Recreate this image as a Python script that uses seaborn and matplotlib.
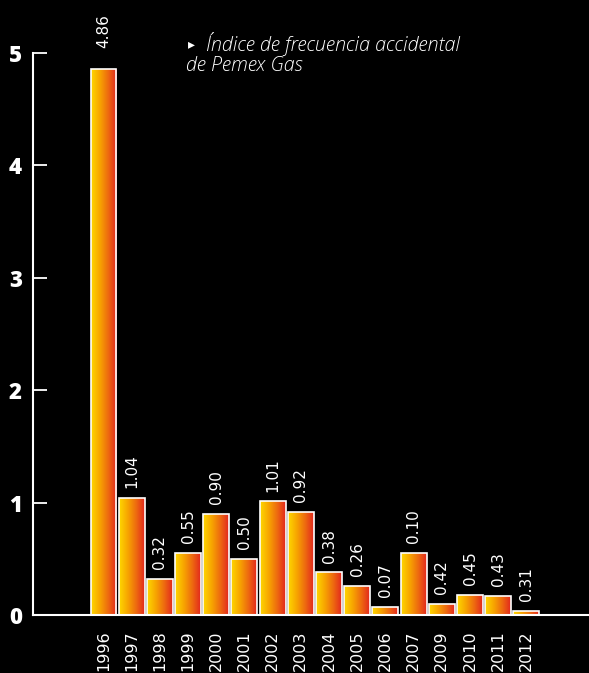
import numpy as np
import seaborn as sns
import matplotlib.pyplot as plt
from matplotlib.colors import LinearSegmentedColormap

# data
years = ['1996', '1997', '1998', '1999', '2000', '2001', '2002', '2003',
         '2004', '2005', '2006', '2007', '2009', '2010', '2011', '2012']
heights = [4.86, 1.04, 0.32, 0.55, 0.90, 0.50, 1.01, 0.92,
           0.38, 0.26, 0.07, 0.55, 0.10, 0.18, 0.17, 0.035]
value_labels = ['4.86', '1.04', '0.32', '0.55', '0.90', '0.50', '1.01', '0.92',
                '0.38', '0.26', '0.07', '0.10', '0.42', '0.45', '0.43', '0.31']
yticks = [0, 1, 2, 3, 4, 5]
title_1 = '\u00CDndice de frecuencia accidental'
title_2 = 'de Pemex Gas'

sns.set_style('dark')
plt.rcParams['font.family'] = ['DejaVu Sans']

fig = plt.figure(figsize=(5.89, 6.73), dpi=100, facecolor='black')
ax = fig.add_axes([33 / 589, 58 / 673, 1 - 33 / 589, (615 - 53) / 673])
ax.set_facecolor('black')

sns.barplot(x=years, y=heights, ax=ax, width=0.92, facecolor='none',
            edgecolor='white', linewidth=1.2, errorbar=None)

cmap = LinearSegmentedColormap.from_list(
    'flame', ['#FFD800', '#F7A600', '#EE6A10', '#E2261E'])
grad = np.linspace(0, 1, 256).reshape(1, -1)
for p in ax.patches:
    x0, y0 = p.get_x(), p.get_y()
    w, h = p.get_width(), p.get_height()
    im = ax.imshow(grad, cmap=cmap, extent=[x0, x0 + w, y0, y0 + h],
                   aspect='auto', zorder=0.5)
    im.set_clip_path(p)
    p.set_zorder(2)

for i, (p, lab) in enumerate(zip(ax.patches, value_labels)):
    # the first label sits a little higher in the original
    off = 15 if i == 0 else 7
    ax.annotate(lab, (p.get_x() + p.get_width() / 2, p.get_height()),
                xytext=(0, off), textcoords='offset points', rotation=90,
                ha='center', va='bottom', color='white', fontsize=11)

ax.set_xlim(-2.5, 17.22)
ax.set_ylim(0, 5)
ax.set_yticks(yticks)
ax.set_yticklabels([str(t) for t in yticks], fontweight='heavy',
                   fontsize=16, family=['Open Sans', 'DejaVu Sans'])
ax.tick_params(axis='y', left=True, direction='in', length=10, width=1.3,
               colors='white', pad=8)
ax.tick_params(axis='x', bottom=True, length=0, colors='white', pad=11,
               labelsize=11.5, labelrotation=90)
for lab in ax.get_xticklabels():
    lab.set_va('top')

ax.set_xlabel('')
ax.set_ylabel('')
ax.grid(False)
for s in ['top', 'right']:
    ax.spines[s].set_visible(False)
for s in ['left', 'bottom']:
    ax.spines[s].set_visible(True)
    ax.spines[s].set_color('white')
    ax.spines[s].set_linewidth(1.5)

fig.text(188 / 589, 1 - 44 / 673, '\u25B8', color='white', fontsize=10,
         va='center', ha='left')
fig.text(206 / 589, 1 - 44 / 673, title_1, color='white', fontsize=14.2,
         style='italic', fontweight='light',
         family=['Open Sans', 'DejaVu Sans'], va='center', ha='left')
fig.text(186 / 589, 1 - 66 / 673, title_2, color='white', fontsize=14.2,
         style='italic', fontweight='light',
         family=['Open Sans', 'DejaVu Sans'], va='center', ha='left')

plt.savefig('out.png', dpi=100, facecolor='black')
